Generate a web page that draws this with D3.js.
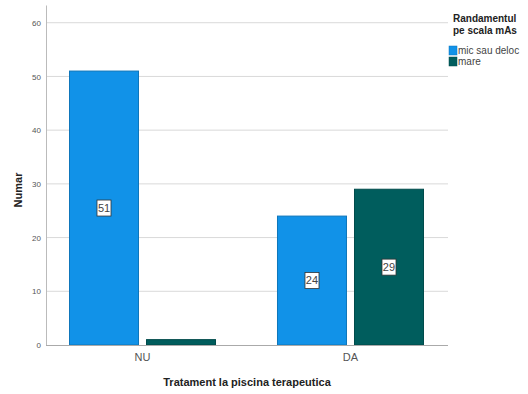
<!DOCTYPE html>
<html>
<head>
<meta charset="utf-8">
<script src="https://cdn.jsdelivr.net/npm/d3@7"></script>
<style>
  body { margin: 0; background: #fff; }
  svg { display: block; font-family: "Liberation Sans", Arial, sans-serif; }
</style>
</head>
<body>
<svg id="chart" width="528" height="394"></svg>
<script>
const categories = ["NU", "DA"];
const seriesNames = ["mic sau deloc", "mare"];
const micSauDeloc = [51, 24];
const mare = [1, 29];
const yTicks = [0, 10, 20, 30, 40, 50, 60];
const seriesColors = ["#1192E8", "#005D5D"];

const svg = d3.select("#chart");
const plotLeft = 46, plotRight = 448, plotTop = 5, plotBottom = 345;

const y = d3.scaleLinear().domain([0, 63.3]).range([plotBottom, plotTop]);
const x = d3.scaleBand().domain(categories).range([plotLeft, plotRight - 1])
  .paddingInner(0.298).paddingOuter(0.113);
const xs = d3.scaleBand().domain(seriesNames).range([0, x.bandwidth()]).paddingInner(0.104);

const values = [micSauDeloc, mare];
const data = [];
categories.forEach((c, i) => seriesNames.forEach((s, j) => data.push({c, s, v: values[j][i], color: seriesColors[j]})));

// gridlines
svg.append("g").selectAll("line").data(yTicks.filter(d => d > 0)).join("line")
  .attr("x1", plotLeft + 1).attr("x2", plotRight)
  .attr("y1", d => y(d)).attr("y2", d => y(d))
  .attr("stroke", "#d9d9d9").attr("stroke-width", 1);

// y axis
const yAxis = d3.axisLeft(y).tickValues(yTicks).tickSize(0).tickPadding(5);
const gy = svg.append("g").attr("transform", `translate(${plotLeft},0)`).call(yAxis);
gy.select(".domain").attr("stroke", "#bbbbbb");
gy.selectAll("text").attr("font-size", 8).attr("fill", "#555");

// bars
svg.append("g").selectAll("rect").data(data).join("rect")
  .attr("x", d => x(d.c) + xs(d.s))
  .attr("width", xs.bandwidth())
  .attr("y", d => y(d.v))
  .attr("height", d => y(0) - y(d.v))
  .attr("fill", d => d.color)
  .attr("stroke", d => d3.color(d.color).darker(0.6))
  .attr("stroke-width", 1);

// x axis baseline
const xAxis = d3.axisBottom(x).tickSize(0).tickPadding(8);
const gx = svg.append("g").attr("transform", `translate(0,${plotBottom})`).call(xAxis);
gx.select(".domain").attr("stroke", "#aaaaaa").attr("d", `M${plotLeft},0.5H${plotRight}`);
gx.selectAll("text").attr("font-size", 11).attr("fill", "#555");

// value labels
const lbl = svg.append("g").selectAll("g").data(data.filter(d => d.v > 5)).join("g")
  .attr("transform", d => `translate(${x(d.c) + xs(d.s) + xs.bandwidth() / 2},${(y(d.v) + y(0)) / 2})`);
lbl.append("rect").attr("x", -7).attr("y", -8).attr("width", 14).attr("height", 16)
  .attr("fill", "#fff").attr("stroke", "#333").attr("stroke-width", 0.8);
lbl.append("text").attr("text-anchor", "middle").attr("dy", "0.35em")
  .attr("font-size", 11).attr("fill", "#444").text(d => d.v);

// axis titles
svg.append("text").attr("transform", `translate(22,${(plotTop + plotBottom) / 2 + 15}) rotate(-90)`)
  .attr("text-anchor", "middle").attr("font-size", 11).attr("font-weight", "bold").attr("fill", "#222")
  .text("Numar");
svg.append("text").attr("x", 247).attr("y", 386).attr("text-anchor", "middle")
  .attr("font-size", 11).attr("font-weight", "bold").attr("fill", "#222")
  .text("Tratament la piscina terapeutica");

// legend
const lg = svg.append("g");
lg.append("text").attr("x", 453).attr("y", 22).attr("font-size", 10).attr("font-weight", "bold").attr("fill", "#222").text("Randamentul");
lg.append("text").attr("x", 453).attr("y", 34).attr("font-size", 10).attr("font-weight", "bold").attr("fill", "#222").text("pe scala mAs");
const li = lg.selectAll("g.item").data(seriesNames).join("g").attr("class", "item")
  .attr("transform", (d, i) => `translate(449,${46 + i * 11})`);
li.append("rect").attr("width", 8).attr("height", 9).attr("fill", (d, i) => seriesColors[i])
  .attr("stroke", (d, i) => d3.color(seriesColors[i]).darker(0.6)).attr("stroke-width", 0.5);
li.append("text").attr("x", 9).attr("y", 8).attr("font-size", 10).attr("fill", "#444").text(d => d);
</script>
</body>
</html>
